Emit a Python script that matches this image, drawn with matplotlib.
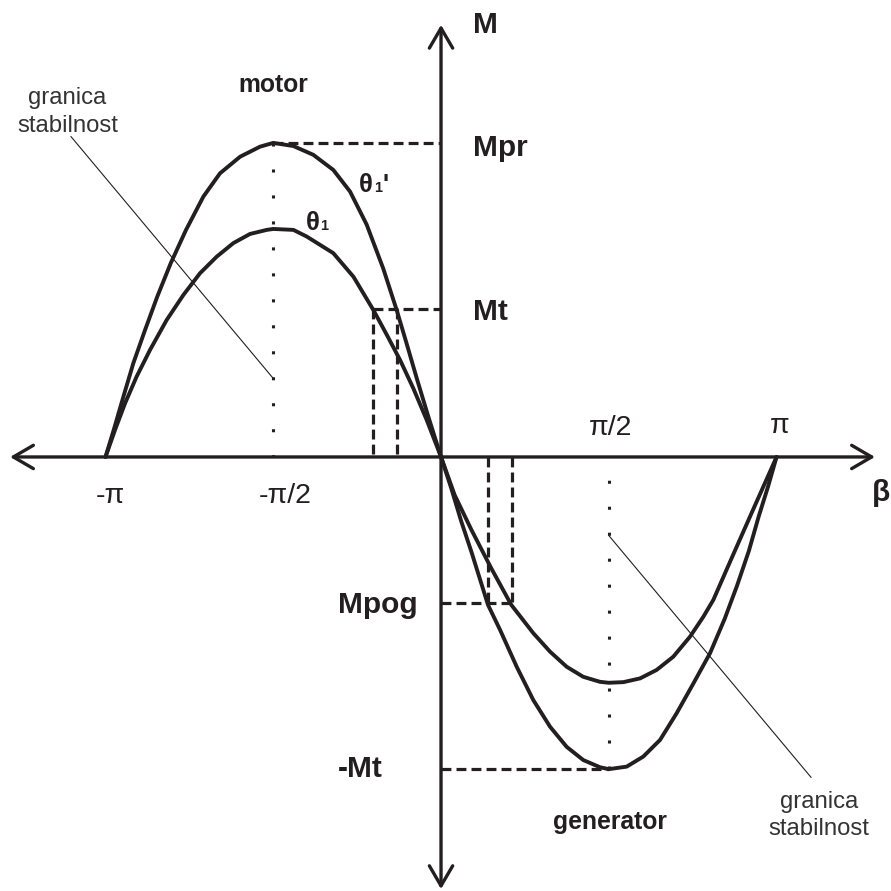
import matplotlib
matplotlib.use("Agg")
import matplotlib.pyplot as plt

plt.rcParams['font.family'] = ['Liberation Sans', 'DejaVu Sans']

INK = '#231f20'

# kut beta u stupnjevima, moment u jedinicama Mpr (ocitano sa slike)
# krivulja theta1' (vanjska), gornji dio (motor)
outer_up_beta = [-180, -175.4, -170.4, -165.1, -158.8, -152.2, -145.0, -136.8, -127.5,
                 -118.6, -107.8, -97.1, -90, -79.2, -68.5, -57.8, -48.8, -39.9, -31.0,
                 -23.8, -18.4, -13.0, -6.8, 0]
outer_up_m = [0, 0.09, 0.192, 0.298, 0.404, 0.511, 0.617, 0.723, 0.829,
              0.903, 0.956, 0.988, 1.0, 0.990, 0.962, 0.914, 0.845, 0.74, 0.60,
              0.468, 0.36, 0.25, 0.128, 0]
# donji dio (generator)
outer_low_beta = [0, 5.5, 10.9, 16.3, 25.2, 31.7, 40.6, 49.5, 58.5, 67.4, 76.3, 85.3, 90,
                  99.6, 108.5, 117.5, 126.4, 135.4, 144.3, 152.2, 158.8, 165.1, 170.4,
                  175.4, 180]
outer_low_m = [0, -0.100, -0.206, -0.302, -0.471, -0.551, -0.668, -0.774, -0.859, -0.923,
               -0.965, -0.988, -0.994, -0.986, -0.954, -0.901, -0.816, -0.721, -0.625,
               -0.515, -0.41, -0.30, -0.19, -0.095, 0]

# krivulja theta1 (unutarnja)
inner_up_beta = [-180, -174.9, -169.5, -163.3, -156.1, -147.2, -138.2, -129.3, -120.3,
                 -111.4, -102.5, -93.5, -90, -79.2, -72.1, -57.8, -47.0, -36.3, -29.1,
                 -22.0, -14.9, -7.7, 0]
inner_up_m = [0, 0.086, 0.171, 0.256, 0.341, 0.436, 0.516, 0.585, 0.638,
              0.681, 0.710, 0.723, 0.726, 0.723, 0.702, 0.649, 0.574, 0.468, 0.389,
              0.309, 0.219, 0.118, 0]
inner_low_beta = [0, 7.3, 16.3, 27.0, 37.7, 49.5, 58.5, 67.4, 76.3, 85.3, 90, 97.8,
                  106.8, 115.7, 124.6, 133.6, 140.7, 146.1, 155.7, 166.5, 180]
inner_low_m = [0, -0.121, -0.232, -0.355, -0.471, -0.561, -0.620, -0.668, -0.700, -0.716,
               -0.719, -0.717, -0.705, -0.678, -0.636, -0.572, -0.509, -0.455, -0.325,
               -0.180, 0]

# karakteristicne vrijednosti
M_PR = 1.0
M_T = 0.471
M_POG = -0.465
M_T_NEG = -0.994
BETA_MT = [-36.6, -23.7]
BETA_POG = [25.1, 37.9]
BETA_PEAK = [-90, 90]

fig = plt.figure(figsize=(8.91, 8.91), dpi=100)
ax = fig.add_axes([0, 0, 1, 1])
ax.set_xlim(-236.6, 241.4)
ax.set_ylim(-1.382, 1.455)
ax.axis('off')

# osi sa strelicama
arrow = dict(arrowstyle='<->,head_length=0.72,head_width=0.42', lw=2.4, color=INK,
             mutation_scale=20, shrinkA=0, shrinkB=0)
ax.annotate('', xy=(232.8, 0), xytext=(-231.2, 0), arrowprops=arrow)
ax.annotate('', xy=(0, 1.376), xytext=(0, -1.376), arrowprops=arrow)

# isprekidane linije
dash = dict(color=INK, lw=2.3, dashes=(3.1, 1.6))
ax.plot([BETA_PEAK[0], 0], [M_PR, M_PR], **dash)
ax.plot([BETA_MT[0], 0], [M_T, M_T], **dash)
for b in BETA_MT:
    ax.plot([b, b], [M_T, 0], **dash)
ax.plot([0, BETA_POG[1]], [M_POG, M_POG], **dash)
for b in BETA_POG:
    ax.plot([b, b], [0, M_POG], **dash)
ax.plot([0, BETA_PEAK[1]], [M_T_NEG, M_T_NEG], **dash)

# tockaste linije
dot = dict(color=INK, lw=2.2, dashes=(1, 7.5))
ax.plot([BETA_PEAK[0], BETA_PEAK[0]], [M_PR, 0], **dot)
ax.plot([BETA_PEAK[1], BETA_PEAK[1]], [M_T_NEG, 0], **dot)

# krivulje
curve = dict(color=INK, lw=2.8, solid_capstyle='round', solid_joinstyle='round')
ax.plot(outer_up_beta + outer_low_beta[1:], outer_up_m + outer_low_m[1:], **curve)
ax.plot(inner_up_beta + inner_low_beta[1:], inner_up_m + inner_low_m[1:], **curve)

# granica stabilnosti - tanke linije
ax.plot([-198.5, BETA_PEAK[0]], [1.02, 0.25], color=INK, lw=0.8)
ax.plot([BETA_PEAK[1], 198.5], [-0.25, -1.02], color=INK, lw=0.8)

# tekst
bold = dict(color=INK, fontweight='bold', fontsize=21.5, va='baseline')
ax.text(17.2, 1.350, 'M', ha='left', **bold)
ax.text(17.2, 0.959, 'Mpr', ha='left', **bold)
ax.text(17.2, 0.436, 'Mt', ha='left', **bold)
ax.text(-55.3, -0.497, 'Mpog', ha='left', **bold)
ax.text(-55.3, -1.019, '-Mt', ha='left', **bold)
ax.text(236, -0.140, 'β', ha='center', **bold)

reg = dict(color=INK, fontsize=20.5, va='baseline', ha='center')
ax.text(-177.6, -0.146, '-π', **reg)
ax.text(-83.7, -0.146, '-π/2', **reg)
ax.text(90.7, 0.070, 'π/2', **reg)
ax.text(181.9, 0.076, 'π', **reg)

small_bold = dict(color=INK, fontweight='bold', fontsize=17.8, va='baseline', ha='center')
ax.text(-90.1, 1.162, 'motor', **small_bold)
ax.text(90.7, -1.185, 'generator', **small_bold)

note = dict(color='#333333', fontsize=17.2, va='baseline', ha='center')
ax.text(-200.4, 1.124, 'granica', **note)
ax.text(-200.4, 1.035, 'stabilnost', **note)
ax.text(202.8, -1.118, 'granica', **note)
ax.text(202.8, -1.204, 'stabilnost', **note)

# oznake krivulja theta1' i theta1
for (bx, my, prime) in [(-40.2, 0.845, True), (-68.9, 0.723, False)]:
    ax.text(bx, my, 'θ', color=INK, fontweight='bold', fontsize=18.5, ha='center', va='baseline')
    ax.annotate('1', xy=(bx, my), xytext=(5.6, 0), textcoords='offset points', color=INK,
                fontweight='bold', fontsize=10.5, ha='left', va='baseline')
    if prime:
        ax.annotate("'", xy=(bx, my), xytext=(12.0, 0), textcoords='offset points', color=INK,
                    fontweight='bold', fontsize=18.5, ha='left', va='baseline')

fig.savefig('out.png', dpi=100, facecolor='white')
